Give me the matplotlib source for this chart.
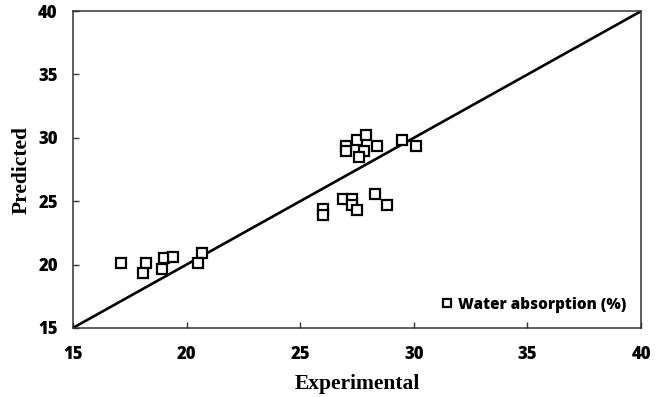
import matplotlib.pyplot as plt

# Experimental vs predicted water absorption (%)
experimental = [17.1, 18.2, 18.1, 19.0, 19.4, 18.9, 20.7, 20.5,
                27.0, 27.0, 27.5, 27.9, 27.8, 27.6, 28.4, 29.5, 30.1,
                26.0, 26.0, 26.9, 27.3, 27.3, 27.5, 28.3, 28.8]
predicted = [20.1, 20.1, 19.35, 20.5, 20.6, 19.65, 20.95, 20.15,
             29.35, 28.95, 29.8, 30.2, 28.95, 28.5, 29.35, 29.8, 29.35,
             24.35, 23.95, 25.15, 25.15, 24.7, 24.3, 25.55, 24.7]
ticks = [15, 20, 25, 30, 35, 40]

tick_font = {'family': 'Open Sans', 'weight': 800, 'size': 12}
title_font = {'family': 'Liberation Serif', 'weight': 'bold', 'size': 15.5}

fig = plt.figure(figsize=(6.63, 3.97), dpi=100)
ax = fig.add_axes([0.110, 0.174, 0.857, 0.798])

# 1:1 reference line
ax.plot([15, 40], [15, 40], color='black', linewidth=1.9, zorder=2)
ax.plot(experimental, predicted, linestyle='none', marker='s', markersize=7.5,
        markerfacecolor='white', markeredgecolor='black', markeredgewidth=1.6,
        label='Water absorption (%)', zorder=3)

ax.set_xlim(15, 40)
ax.set_ylim(15, 40)
ax.set_xticks(ticks)
ax.set_yticks(ticks)
ax.set_xticklabels([str(t) for t in ticks], fontdict=tick_font)
ax.set_yticklabels([str(t) for t in ticks], fontdict=tick_font)
ax.tick_params(direction='in', length=4, width=1, color='#333333')
ax.tick_params(axis='x', pad=13)
ax.tick_params(axis='y', pad=11)
for s in ax.spines.values():
    s.set_linewidth(1.1)
    s.set_color('#333333')

ax.set_xlabel('Experimental', fontdict=title_font, labelpad=8)
ax.set_ylabel('Predicted', fontdict=title_font, labelpad=5)

ax.legend(loc='lower right', frameon=False, handletextpad=-0.1, borderaxespad=0.6,
          handlelength=1.6, markerscale=0.8,
          prop={'family': 'Open Sans', 'weight': 800, 'size': 11})

fig.savefig('out.png', dpi=100)
